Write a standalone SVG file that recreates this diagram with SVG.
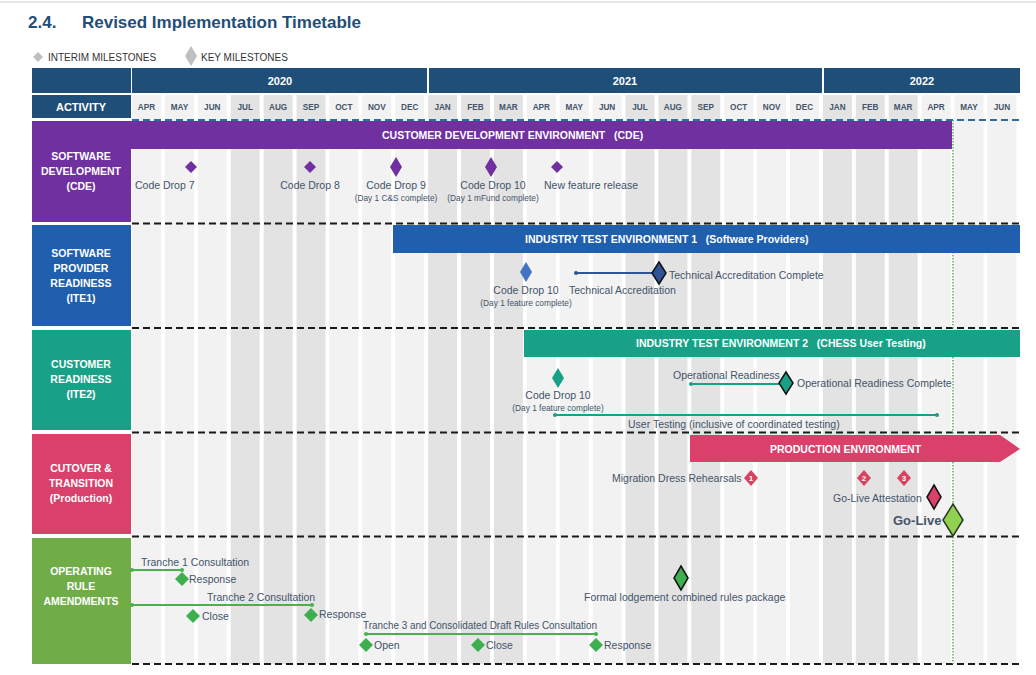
<svg xmlns="http://www.w3.org/2000/svg" width="1036" height="675" viewBox="0 0 1036 675">
<style>
text{font-family:"Liberation Sans",Arial,sans-serif}
.title{font-size:17px;font-weight:bold;fill:#1f4e79}
.leg{font-size:10px;fill:#333}
.hdr{fill:#1f4e79}
.yr{font-size:11px;font-weight:bold;fill:#fff;text-anchor:middle}
.mo{font-size:8.2px;font-weight:bold;fill:#44546a;text-anchor:middle}
.lt{fill:#f2f2f2}
.dk{fill:#e3e3e3}
.lbl{font-size:10.5px;font-weight:bold;fill:#fff;text-anchor:middle}
.bar{font-size:10.5px;font-weight:bold;fill:#fff}
.t{font-size:10.5px;fill:#44546a}
.tc{font-size:10.5px;fill:#44546a;text-anchor:middle}
.s{font-size:8.3px;fill:#44546a;text-anchor:middle}
.sep{stroke:#1a1a1a;stroke-width:2;stroke-dasharray:7 4;fill:none}
.ke{stroke:#111;stroke-width:1.5}
.gl{stroke:#4cb050;stroke-width:2;fill:none}
.num{font-size:8px;font-weight:bold;fill:#fff;text-anchor:middle}
</style>
<rect width="1036" height="675" fill="#fff"/>
<line x1="0" y1="2" x2="1036" y2="2" stroke="#ddd" stroke-width="1.5"/>
<text class="title" x="28" y="28">2.4.</text>
<text class="title" x="82" y="28" textLength="279">Revised Implementation Timetable</text>
<g id="legend">
<polygon points="38,52 43,57 38,62 33,57" fill="#bfbfbf"/>
<text class="leg" x="48" y="61">INTERIM MILESTONES</text>
<polygon points="191,46 197,56 191,66 185,56" fill="#bfbfbf"/>
<text class="leg" x="201" y="61">KEY MILESTONES</text>
</g>
<g id="columns">
<rect class="lt" x="132" y="95" width="29" height="569"/>
<rect class="lt" x="164.9" y="95" width="29" height="569"/>
<rect class="lt" x="197.8" y="95" width="29" height="569"/>
<rect class="dk" x="230.7" y="95" width="29" height="569"/>
<rect class="dk" x="263.6" y="95" width="29" height="569"/>
<rect class="dk" x="296.5" y="95" width="29" height="569"/>
<rect class="lt" x="329.4" y="95" width="29" height="569"/>
<rect class="lt" x="362.3" y="95" width="29" height="569"/>
<rect class="lt" x="395.2" y="95" width="29" height="569"/>
<rect class="dk" x="428.1" y="95" width="29" height="569"/>
<rect class="dk" x="461" y="95" width="29" height="569"/>
<rect class="dk" x="493.9" y="95" width="29" height="569"/>
<rect class="lt" x="526.8" y="95" width="29" height="569"/>
<rect class="lt" x="559.7" y="95" width="29" height="569"/>
<rect class="lt" x="592.6" y="95" width="29" height="569"/>
<rect class="dk" x="625.5" y="95" width="29" height="569"/>
<rect class="dk" x="658.4" y="95" width="29" height="569"/>
<rect class="dk" x="691.3" y="95" width="29" height="569"/>
<rect class="lt" x="724.2" y="95" width="29" height="569"/>
<rect class="lt" x="757.1" y="95" width="29" height="569"/>
<rect class="lt" x="790" y="95" width="29" height="569"/>
<rect class="dk" x="822.9" y="95" width="29" height="569"/>
<rect class="dk" x="855.8" y="95" width="29" height="569"/>
<rect class="dk" x="888.7" y="95" width="29" height="569"/>
<rect class="lt" x="921.6" y="95" width="29" height="569"/>
<rect class="lt" x="954.5" y="95" width="29" height="569"/>
<rect class="lt" x="987.4" y="95" width="29" height="569"/>
</g>
<g id="header">
<rect class="hdr" x="32" y="68" width="99" height="25"/>
<rect class="hdr" x="132" y="68" width="295" height="25"/>
<rect class="hdr" x="429" y="68" width="393" height="25"/>
<rect class="hdr" x="824" y="68" width="196" height="25"/>
<text class="yr" x="280" y="85">2020</text>
<text class="yr" x="625" y="85">2021</text>
<text class="yr" x="922" y="85">2022</text>
<rect class="hdr" x="32" y="95" width="99" height="23"/>
<text class="yr" x="81" y="111">ACTIVITY</text>
<text class="mo" x="146.5" y="110">APR</text>
<text class="mo" x="179.4" y="110">MAY</text>
<text class="mo" x="212.3" y="110">JUN</text>
<text class="mo" x="245.2" y="110">JUL</text>
<text class="mo" x="278.1" y="110">AUG</text>
<text class="mo" x="311" y="110">SEP</text>
<text class="mo" x="343.9" y="110">OCT</text>
<text class="mo" x="376.8" y="110">NOV</text>
<text class="mo" x="409.7" y="110">DEC</text>
<text class="mo" x="442.6" y="110">JAN</text>
<text class="mo" x="475.5" y="110">FEB</text>
<text class="mo" x="508.4" y="110">MAR</text>
<text class="mo" x="541.3" y="110">APR</text>
<text class="mo" x="574.2" y="110">MAY</text>
<text class="mo" x="607.1" y="110">JUN</text>
<text class="mo" x="640" y="110">JUL</text>
<text class="mo" x="672.9" y="110">AUG</text>
<text class="mo" x="705.8" y="110">SEP</text>
<text class="mo" x="738.7" y="110">OCT</text>
<text class="mo" x="771.6" y="110">NOV</text>
<text class="mo" x="804.5" y="110">DEC</text>
<text class="mo" x="837.4" y="110">JAN</text>
<text class="mo" x="870.3" y="110">FEB</text>
<text class="mo" x="903.2" y="110">MAR</text>
<text class="mo" x="936.1" y="110">APR</text>
<text class="mo" x="969" y="110">MAY</text>
<text class="mo" x="1001.9" y="110">JUN</text>
</g>
<g id="separators">
<line x1="132" y1="120" x2="1020" y2="120" stroke="#2e6e9e" stroke-width="2" stroke-dasharray="7 4"/>
<line class="sep" x1="132" y1="223.5" x2="1020" y2="223.5"/>
<line class="sep" x1="132" y1="328" x2="1020" y2="328"/>
<line class="sep" x1="132" y1="432.5" x2="1020" y2="432.5"/>
<line class="sep" x1="132" y1="536.5" x2="1020" y2="536.5"/>
<line class="sep" x1="132" y1="664" x2="1020" y2="664"/>
<line x1="953" y1="120" x2="953" y2="664" stroke="#4caf50" stroke-width="1.5" stroke-dasharray="1.5 1.5"/>
</g>
<g id="row-software-development">
<rect x="32" y="121" width="99" height="101" fill="#7030a0"/>
<text class="lbl" x="81" y="160">SOFTWARE</text>
<text class="lbl" x="81" y="175">DEVELOPMENT</text>
<text class="lbl" x="81" y="190">(CDE)</text>
</g>
<g id="bar-cde">
<rect x="32" y="121" width="920" height="28" fill="#7030a0"/>
<text class="bar" x="382" y="139" xml:space="preserve">CUSTOMER DEVELOPMENT ENVIRONMENT   (CDE)</text>
</g>
<g id="row-software-provider">
<rect x="32" y="225" width="99" height="101" fill="#1f5fae"/>
<text class="lbl" x="81" y="257">SOFTWARE</text>
<text class="lbl" x="81" y="272">PROVIDER</text>
<text class="lbl" x="81" y="287">READINESS</text>
<text class="lbl" x="81" y="302">(ITE1)</text>
</g>
<g id="bar-ite1">
<rect x="393" y="225" width="627" height="28" fill="#1f5fae"/>
<text class="bar" x="525" y="243" xml:space="preserve">INDUSTRY TEST ENVIRONMENT 1   (Software Providers)</text>
</g>
<g id="row-customer-readiness">
<rect x="32" y="330" width="99" height="100" fill="#19a187"/>
<text class="lbl" x="81" y="368">CUSTOMER</text>
<text class="lbl" x="81" y="383">READINESS</text>
<text class="lbl" x="81" y="398">(ITE2)</text>
</g>
<g id="bar-ite2">
<rect x="524" y="330" width="496" height="27" fill="#19a187"/>
<text class="bar" x="636" y="347" xml:space="preserve">INDUSTRY TEST ENVIRONMENT 2   (CHESS User Testing)</text>
</g>
<g id="row-cutover">
<rect x="32" y="434" width="99" height="100" fill="#d9416b"/>
<text class="lbl" x="81" y="472">CUTOVER &amp;</text>
<text class="lbl" x="81" y="487">TRANSITION</text>
<text class="lbl" x="81" y="502">(Production)</text>
</g>
<g id="bar-production">
<polygon points="690,435 1000,435 1020,449 1000,462 690,462" fill="#d9416b"/>
<text class="bar" x="770" y="453">PRODUCTION ENVIRONMENT</text>
</g>
<g id="row-operating-rules">
<rect x="32" y="538" width="99" height="126" fill="#70ad47"/>
<text class="lbl" x="81" y="575">OPERATING</text>
<text class="lbl" x="81" y="590">RULE</text>
<text class="lbl" x="81" y="605">AMENDMENTS</text>
</g>
<g id="connectors">
<line x1="576" y1="273" x2="655" y2="273" stroke="#2f5597" stroke-width="2"/>
<circle cx="576" cy="273" r="2" fill="#2f5597"/>
<line x1="691" y1="384" x2="782" y2="384" stroke="#19a187" stroke-width="2"/>
<circle cx="691" cy="384" r="2" fill="#19a187"/>
<line x1="555" y1="415" x2="937" y2="415" stroke="#19a187" stroke-width="2"/>
<circle cx="555" cy="415" r="2" fill="#19a187"/>
<circle cx="937" cy="415" r="2" fill="#19a187"/>
<line class="gl" x1="132" y1="570" x2="182" y2="570"/>
<circle cx="132" cy="570" r="2" fill="#4cb050"/>
<circle cx="182" cy="570" r="2" fill="#4cb050"/>
<line class="gl" x1="132" y1="605" x2="312" y2="605"/>
<circle cx="132" cy="605" r="2" fill="#4cb050"/>
<circle cx="312" cy="605" r="2" fill="#4cb050"/>
<line class="gl" x1="366" y1="634" x2="596" y2="634"/>
<circle cx="366" cy="634" r="2" fill="#4cb050"/>
<circle cx="596" cy="634" r="2" fill="#4cb050"/>
</g>
<g id="m-cd7"><polygon points="191,161 197,167 191,173 185,167" fill="#7030a0"/><text class="t" x="135" y="189">Code Drop 7</text></g>
<g id="m-cd8"><polygon points="310,161 316,167 310,173 304,167" fill="#7030a0"/><text class="tc" x="310" y="189">Code Drop 8</text></g>
<g id="m-cd9"><polygon points="396,157 402,167 396,177 390,167" fill="#7030a0"/><text class="tc" x="396" y="189">Code Drop 9</text><text class="s" x="396" y="201">(Day 1 C&amp;S complete)</text></g>
<g id="m-cd10a"><polygon points="491,157 497,167 491,177 485,167" fill="#7030a0"/><text class="tc" x="493" y="189">Code Drop 10</text><text class="s" x="493" y="201">(Day 1 mFund complete)</text></g>
<g id="m-nfr"><polygon points="557,161 563,167 557,173 551,167" fill="#7030a0"/><text class="t" x="544" y="189">New feature release</text></g>
<g id="m-cd10b"><polygon points="526,262 532,272 526,282 520,272" fill="#4472c4"/><text class="tc" x="526" y="294">Code Drop 10</text><text class="s" x="526" y="306">(Day 1 feature complete)</text></g>
<g id="m-tac"><polygon class="ke" points="659,262 666,273 659,284 652,273" fill="#2f5597"/><text class="t" x="669" y="279">Technical Accreditation Complete</text><text class="t" x="569" y="294">Technical Accreditation</text></g>
<g id="m-cd10c"><polygon points="558,368 564,378 558,388 552,378" fill="#19a187"/><text class="tc" x="558" y="399">Code Drop 10</text><text class="s" x="558" y="411">(Day 1 feature complete)</text></g>
<g id="m-orc"><polygon class="ke" points="786,372 793,383 786,394 779,383" fill="#19a187"/><text class="t" x="673" y="379">Operational Readiness</text><text class="t" x="797" y="387">Operational Readiness Complete</text></g>
<g id="m-ut"><text class="t" x="628" y="428">User Testing (inclusive of coordinated testing)</text></g>
<g id="m-mdr"><text class="t" x="612" y="482">Migration Dress Rehearsals</text>
<polygon points="751,470 758,478 751,486 744,478" fill="#d9415f"/><text class="num" x="751" y="481">1</text>
<polygon points="864,470 871,478 864,486 857,478" fill="#d9415f"/><text class="num" x="864" y="481">2</text>
<polygon points="904,470 911,478 904,486 897,478" fill="#d9415f"/><text class="num" x="904" y="481">3</text></g>
<g id="m-gla"><polygon class="ke" points="934,485 941,497 934,509 927,497" fill="#d9416b"/><text class="t" x="833" y="502">Go-Live Attestation</text></g>
<g id="m-golive"><polygon points="953,504 963,520 953,536 943,520" fill="#92d050" stroke="#2b3b22" stroke-width="1.5"/><text x="893" y="525" font-size="13" font-weight="bold" fill="#44546a">Go-Live</text></g>
<g id="m-t1"><text class="t" x="141" y="566">Tranche 1 Consultation</text><polygon points="182,572 189,579 182,586 175,579" fill="#3daf4e"/><text class="t" x="189" y="583">Response</text></g>
<g id="m-t2"><text class="t" x="207" y="601">Tranche 2 Consultation</text><polygon points="193,609 200,616 193,623 186,616" fill="#3daf4e"/><text class="t" x="202" y="620">Close</text><polygon points="311,608 318,615 311,622 304,615" fill="#3daf4e"/><text class="t" x="319" y="618">Response</text></g>
<g id="m-t3"><text class="t" x="363" y="629" textLength="234" lengthAdjust="spacingAndGlyphs">Tranche 3 and Consolidated Draft Rules Consultation</text>
<polygon points="366,638 373,645 366,652 359,645" fill="#3daf4e"/><text class="t" x="374" y="649">Open</text>
<polygon points="478,638 485,645 478,652 471,645" fill="#3daf4e"/><text class="t" x="486" y="649">Close</text>
<polygon points="596,638 603,645 596,652 589,645" fill="#3daf4e"/><text class="t" x="604" y="649">Response</text></g>
<g id="m-formal"><polygon class="ke" points="681,566 688,578 681,590 674,578" fill="#3daf4e"/><text class="t" x="584" y="601">Formal lodgement combined rules package</text></g>
</svg>
